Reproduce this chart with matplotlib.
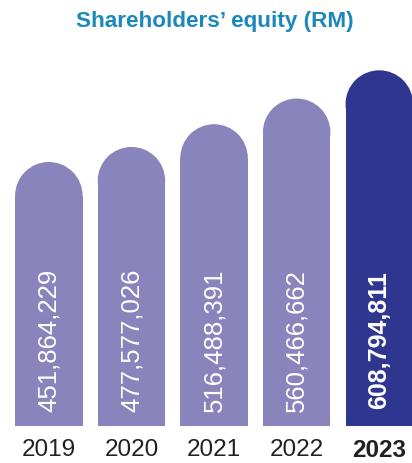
import matplotlib
matplotlib.use("Agg")
import matplotlib.pyplot as plt
from matplotlib.patches import Ellipse

# shareholders' equity per year (RM)
years = ["2019", "2020", "2021", "2022", "2023"]
equity = [451864229, 477577026, 516488391, 560466662, 608794811]
value_labels = ["451,864,229", "477,577,026", "516,488,391", "560,466,662", "608,794,811"]

light = "#8a84bc"
dark = "#2e3690"
title_color = "#1b87ba"
font = "Liberation Sans"

fig = plt.figure(figsize=(4.12, 4.64), dpi=100)
ax = fig.add_axes([0, 37 / 464, 1, 427 / 464])
ax.set_xlim(-0.591, 4.396)
ax.set_ylim(0, 730.8e6)

bw = 0.817
# radius of the rounded cap, in data units along y
p0 = ax.transData.transform((0, 0))
p1 = ax.transData.transform((bw / 2, 1e6))
r_px = p1[0] - p0[0]
r_y = r_px / (p1[1] - p0[1]) * 1e6

for i, v in enumerate(equity):
    last = i == len(equity) - 1
    c = dark if last else light
    ax.bar(i, v - r_y, width=bw, color=c, linewidth=0)
    ax.add_patch(Ellipse((i, v - r_y), bw, 2 * r_y, color=c, linewidth=0))
    ax.annotate(value_labels[i], (i, 0), xytext=(0, 13 if last else 11),
                textcoords="offset points", rotation=90, ha="center", va="bottom",
                color="white", fontsize=18 if last else 18.5, family=font,
                fontweight="bold" if last else "normal")

ax.set_xticks(range(len(years)))
ax.set_xticklabels(years, fontsize=17.5, family=font, color="#231f20")
ax.get_xticklabels()[-1].set_fontweight("bold")
ax.tick_params(axis="x", length=0, pad=8.5)
ax.set_yticks([])
for s in ax.spines.values():
    s.set_visible(False)

fig.text(0.5206, 1 - 27 / 464, "Shareholders\u2019 equity (RM)", ha="center", va="baseline",
         fontsize=16.2, fontweight="bold", family=font, color=title_color)

fig.savefig("out.png", dpi=100)
